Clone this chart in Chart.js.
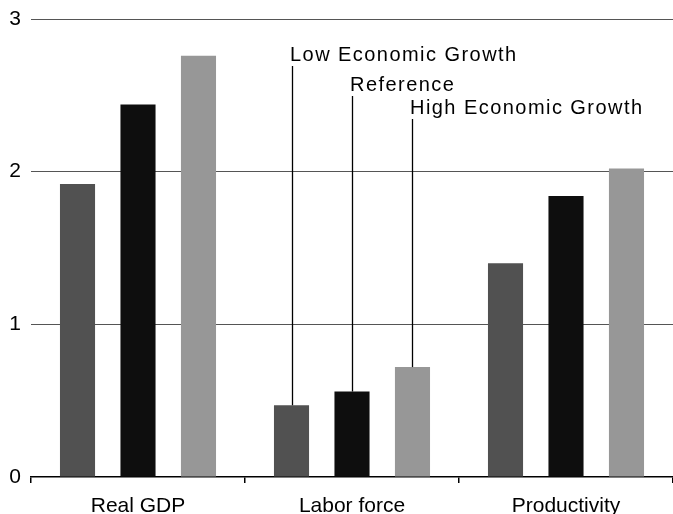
<!DOCTYPE html>
<html>
<head>
<meta charset="utf-8">
<script src="https://cdn.jsdelivr.net/npm/chart.js@4/dist/chart.umd.min.js"></script>
<style>
  html, body { margin: 0; padding: 0; background: #fff; }
  #wrap { width: 673px; height: 514px; }
</style>
</head>
<body>
<div id="wrap"><canvas id="c" width="673" height="514"></canvas></div>
<script>
const categories = ["Real GDP", "Labor force", "Productivity"];
const seriesNames = ["Low Economic Growth", "Reference", "High Economic Growth"];
const lowGrowth = [1.92, 0.47, 1.40];
const reference = [2.44, 0.56, 1.84];
const highGrowth = [2.76, 0.72, 2.02];
const yTicks = [0, 1, 2, 3];

const FONT = "'Liberation Sans', Arial, sans-serif";

// Annotation plugin: labels with leader lines down to the Labor force bars
const annotate = {
  id: 'annotate',
  afterDatasetsDraw(chart, args, opts) {
    const ctx = chart.ctx;
    const catIndex = opts.categoryIndex;
    ctx.save();
    ctx.font = opts.fontSize + "px " + FONT;
    try { ctx.letterSpacing = opts.letterSpacing + "px"; } catch (e) {}
    ctx.fillStyle = '#000';
    ctx.strokeStyle = '#000';
    ctx.lineWidth = 1.3;
    ctx.textBaseline = 'top';
    ctx.textAlign = 'left';
    chart.data.datasets.forEach((ds, i) => {
      const bar = chart.getDatasetMeta(i).data[catIndex];
      const x = Math.round(bar.x) + 0.5;
      const textTop = opts.textTops[i];
      ctx.fillText(ds.label, x - 2.5, textTop);
      ctx.beginPath();
      ctx.moveTo(x, textTop + opts.fontSize + 1);
      ctx.lineTo(x, bar.y);
      ctx.stroke();
    });
    ctx.restore();
  }
};

new Chart(document.getElementById('c'), {
  type: 'bar',
  data: {
    labels: categories,
    datasets: [
      { label: seriesNames[0], data: lowGrowth, backgroundColor: '#515151' },
      { label: seriesNames[1], data: reference, backgroundColor: '#0e0e0e' },
      { label: seriesNames[2], data: highGrowth, backgroundColor: '#979797' }
    ]
  },
  options: {
    responsive: false,
    animation: false,
    devicePixelRatio: 1,
    layout: { padding: { top: 19, right: 0, left: 0, bottom: 0 } },
    datasets: { bar: { categoryPercentage: 0.848, barPercentage: 0.58 } },
    plugins: {
      legend: { display: false },
      tooltip: { enabled: false },
      annotate: { categoryIndex: 1, fontSize: 20, letterSpacing: 1.45, textTops: [45, 75, 98] }
    },
    scales: {
      x: {
        offset: true,
        grid: {
          display: true, offset: true, drawOnChartArea: false, drawTicks: true,
          tickLength: 6, color: '#000', lineWidth: 1.5
        },
        border: { display: true, color: '#000', width: 1.5 },
        ticks: { color: '#000', font: { family: FONT, size: 21 }, padding: 11 },
        afterFit(scale) { scale.height = 37; scale.paddingLeft = 0; scale.paddingRight = 0; }
      },
      y: {
        min: 0, max: 3,
        afterBuildTicks(scale) { scale.ticks = yTicks.map(v => ({ value: v })); },
        grid: {
          color: (c) => c.tick && c.tick.value === 0 ? 'rgba(0,0,0,0)' : '#555',
          lineWidth: 1, drawTicks: false
        },
        border: { display: false },
        ticks: { color: '#000', font: { family: FONT, size: 21 }, padding: 10 },
        afterFit(scale) { scale.width = 31; scale.paddingTop = 0; scale.paddingBottom = 0; }
      }
    }
  },
  plugins: [annotate]
});
</script>
</body>
</html>
